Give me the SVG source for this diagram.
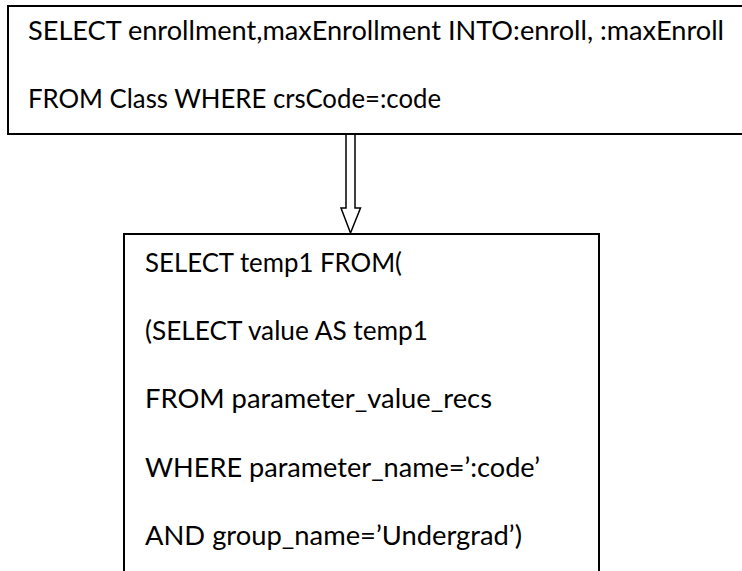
<svg xmlns="http://www.w3.org/2000/svg" width="742" height="571" viewBox="0 0 742 571">
  <style>
    .box { fill: #ffffff; stroke: #000000; stroke-width: 2; }
    .sql { font-family: Lato, "Open Sans", "Liberation Sans", sans-serif; font-size: 26.5px; fill: #000000; }
    .arrow { fill: #ffffff; stroke: #000000; stroke-width: 1.5; stroke-linejoin: miter; }
  </style>
  <rect width="742" height="571" fill="#ffffff"/>

  <!-- embedded SQL statement: box runs off the right edge -->
  <g id="query-embedded">
    <rect class="box" x="8" y="6" width="760" height="128"/>
    <text class="sql" x="28" y="40" textLength="696" lengthAdjust="spacingAndGlyphs">SELECT enrollment,maxEnrollment INTO:enroll, :maxEnroll</text>
    <text class="sql" x="28" y="107.5" textLength="413" lengthAdjust="spacingAndGlyphs">FROM Class WHERE crsCode=:code</text>
  </g>

  <!-- rewritten statement: box runs off the bottom edge -->
  <g id="query-rewritten">
    <rect class="box" x="124" y="234" width="475" height="360"/>
    <text class="sql" x="145" y="272" textLength="257" lengthAdjust="spacingAndGlyphs">SELECT temp1 FROM(</text>
    <text class="sql" x="145" y="340" textLength="283" lengthAdjust="spacingAndGlyphs">(SELECT value AS temp1</text>
    <text class="sql" x="145" y="408" textLength="347" lengthAdjust="spacingAndGlyphs">FROM parameter_value_recs</text>
    <text class="sql" x="145" y="477" textLength="395" lengthAdjust="spacingAndGlyphs">WHERE parameter_name=’:code’</text>
    <text class="sql" x="145" y="545" textLength="377" lengthAdjust="spacingAndGlyphs">AND group_name=’Undergrad’)</text>
  </g>

  <!-- hollow block arrow between the two statements -->
  <g id="connectors">
    <path class="arrow" d="M346,135 L346,208 L341,208 L350.5,233 L360.5,208 L355,208 L355,135"/>
  </g>
</svg>
